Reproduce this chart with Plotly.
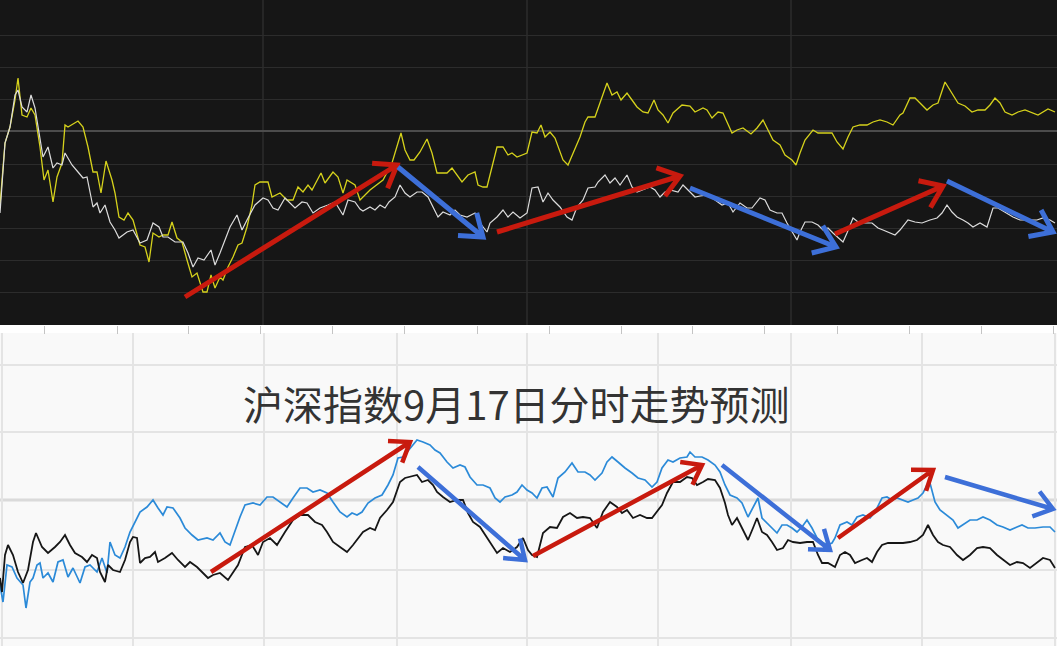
import math
import plotly.graph_objects as go

W, H = 1057, 646
TOP_H = 325   # height of dark (upper) panel in value units == px
BOT_H = 313   # height of light (lower) panel

# ---------------- data (time position, level) ----------------
yellow_top = [(0,120),(5,182),(10,198),(15,225),(18,247),(20,225),(22,210),(27,208),(31,217),(35,210),(40,178),(44,145),(48,155),(53,123),(57,148),(62,162),(65,200),(68,198),(78,204),(83,198),(88,178),(93,153),(97,153),(101,132),(106,164),(112,145),(115,132),(119,108),(124,105),(128,112),(133,105),(140,80),(145,78),(149,63),(153,92),(159,88),(163,90),(168,90),(172,103),(177,87),(182,83),(187,65),(192,48),(197,52),(203,33),(207,33),(211,50),(215,37),(220,48),(223,45),(228,58),(233,68),(238,80),(242,82),(247,98),(252,120),(255,140),(260,143),(268,143),(272,128),(280,132),(287,125),(293,125),(298,138),(303,133),(308,140),(312,135),(321,152),(325,142),(333,153),(338,148),(343,132),(347,145),(355,140),(360,125),(370,135),(383,145),(392,162),(401,192),(405,175),(410,165),(414,165),(420,173),(427,186),(432,172),(437,152),(442,152),(447,152),(452,157),(457,150),(462,143),(468,150),(475,153),(478,140),(483,138),(487,138),(492,158),(497,178),(503,178),(508,170),(512,172),(517,168),(527,172),(532,193),(537,192),(541,200),(545,188),(550,193),(555,187),(558,178),(563,165),(568,160),(573,172),(580,188),(585,203),(588,208),(595,208),(600,222),(607,242),(612,230),(617,233),(621,225),(627,232),(632,225),(637,218),(643,213),(648,212),(654,225),(658,215),(663,210),(668,202),(673,212),(682,220),(690,219),(695,213),(703,217),(707,215),(712,207),(718,213),(723,212),(732,192),(737,195),(743,197),(751,191),(757,197),(763,205),(768,195),(773,185),(780,180),(785,170),(792,165),(796,160),(800,172),(805,185),(813,195),(818,192),(825,192),(832,192),(837,183),(843,176),(848,188),(853,198),(860,200),(867,200),(873,203),(880,205),(887,203),(893,200),(900,210),(903,212),(910,227),(915,227),(920,222),(927,215),(933,220),(938,222),(945,243),(952,232),(958,222),(965,219),(972,213),(978,215),(985,215),(990,220),(995,227),(1000,222),(1005,213),(1012,210),(1018,213),(1025,215),(1033,212),(1038,210),(1048,216),(1055,213)]

white_top = [(0,112),(5,182),(10,198),(15,230),(18,235),(22,218),(27,213),(31,230),(35,217),(39,192),(43,168),(48,178),(53,157),(57,162),(62,160),(65,172),(72,160),(78,153),(83,147),(87,148),(93,118),(97,122),(100,112),(105,120),(110,103),(115,95),(119,87),(127,93),(133,95),(140,82),(147,85),(153,102),(159,98),(163,88),(168,88),(175,83),(183,83),(188,72),(193,58),(198,67),(204,65),(211,75),(215,60),(220,72),(225,85),(230,98),(237,110),(242,95),(247,105),(251,112),(255,120),(263,127),(268,125),(273,117),(278,115),(285,127),(290,122),(295,117),(302,123),(307,122),(313,112),(320,117),(328,120),(335,123),(343,110),(348,125),(355,123),(360,116),(363,114),(370,118),(375,115),(380,120),(385,117),(389,123),(395,128),(400,140),(405,132),(410,128),(417,133),(422,133),(428,128),(433,118),(438,108),(443,113),(450,110),(455,115),(460,110),(467,108),(475,112),(480,102),(487,93),(490,102),(497,108),(503,115),(508,108),(513,113),(520,107),(527,112),(532,137),(538,138),(543,123),(548,132),(553,125),(560,118),(567,108),(572,105),(577,118),(583,125),(588,137),(595,138),(598,143),(605,150),(610,142),(615,147),(620,140),(627,150),(632,138),(637,133),(643,135),(650,138),(655,135),(660,128),(665,133),(670,135),(678,133),(683,140),(690,133),(695,128),(700,129),(707,130),(715,125),(722,120),(728,122),(733,113),(740,122),(747,117),(752,117),(760,127),(765,125),(770,115),(777,112),(782,112),(787,102),(792,93),(797,85),(800,93),(805,103),(812,103),(818,100),(823,95),(828,97),(833,92),(838,87),(843,83),(847,92),(853,107),(858,103),(865,102),(872,102),(878,97),(883,95),(890,92),(895,90),(900,95),(908,105),(915,103),(922,102),(930,105),(937,107),(942,112),(947,120),(952,113),(957,108),(963,105),(968,102),(973,98),(980,102),(987,98),(993,117),(998,117),(1007,112),(1013,108),(1020,105),(1028,105),(1037,105),(1043,107),(1050,105),(1055,102)]

blue_bot = [(0,61),(3,44),(7,81),(12,79),(17,68),(20,64),(23,61),(26,38),(30,64),(33,68),(37,81),(40,83),(43,68),(48,73),(53,64),(58,84),(63,86),(68,69),(73,78),(80,63),(85,79),(90,81),(97,74),(102,88),(107,73),(110,104),(115,91),(120,88),(125,99),(130,114),(135,124),(140,134),(147,139),(153,146),(158,138),(163,131),(167,139),(173,138),(180,128),(185,118),(192,111),(198,106),(207,108),(213,106),(220,113),(225,104),(230,101),(235,116),(240,129),(245,141),(253,143),(260,141),(267,149),(273,149),(280,144),(287,139),(293,148),(300,158),(307,158),(313,154),(320,156),(327,153),(333,144),(340,134),(347,129),(352,133),(357,131),(362,134),(368,143),(375,148),(382,151),(388,161),(393,171),(398,188),(403,189),(410,198),(417,206),(423,204),(430,201),(435,196),(440,193),(447,184),(453,178),(460,181),(465,179),(470,169),(477,161),(483,161),(490,158),(495,148),(500,144),(505,149),(512,151),(517,154),(522,161),(527,156),(532,153),(537,148),(542,158),(547,159),(553,149),(558,168),(565,174),(572,183),(578,174),(585,174),(590,171),(595,166),(602,173),(607,184),(612,189),(618,184),(625,178),(632,173),(638,168),(645,166),(652,159),(657,164),(662,178),(668,186),(673,184),(680,188),(687,189),(690,194),(695,189),(702,189),(708,186),(715,181),(720,174),(725,161),(730,151),(737,148),(742,143),(748,129),(753,139),(758,148),(762,128),(767,123),(772,119),(777,113),(782,121),(787,121),(792,118),(797,114),(802,119),(807,126),(812,118),(817,108),(822,104),(827,101),(832,103),(835,108),(840,121),(847,124),(852,121),(857,129),(863,131),(870,128),(875,134),(882,148),(887,149),(892,146),(897,148),(903,146),(908,144),(913,146),(918,148),(923,153),(927,161),(930,163),(935,144),(940,136),(947,131),(953,126),(958,118),(963,121),(970,126),(977,126),(983,129),(990,126),(997,121),(1003,119),(1010,116),(1017,119),(1022,121),(1028,118),(1035,118),(1043,119),(1050,119),(1055,114)]

black_bot = [(0,68),(2,54),(5,91),(8,101),(13,91),(18,74),(23,63),(28,76),(33,104),(36,113),(42,99),(48,93),(55,99),(60,104),(65,111),(70,101),(75,93),(82,89),(87,84),(92,91),(97,88),(100,74),(105,64),(108,81),(113,76),(120,74),(125,86),(130,104),(133,109),(137,108),(140,83),(145,88),(150,89),(155,94),(158,84),(165,88),(172,93),(178,86),(185,79),(190,84),(197,79),(203,73),(208,68),(213,71),(220,73),(228,66),(233,73),(238,81),(245,99),(252,101),(258,91),(263,104),(270,108),(277,101),(285,114),(293,126),(300,131),(308,131),(315,124),(322,121),(327,114),(333,104),(340,99),(347,94),(353,101),(357,106),(363,114),(370,118),(375,116),(380,128),(387,136),(393,144),(400,164),(405,168),(410,169),(417,171),(422,164),(428,166),(433,161),(437,154),(443,149),(450,144),(457,146),(463,146),(468,133),(473,124),(480,119),(487,108),(492,101),(497,93),(503,98),(510,94),(517,99),(523,108),(528,96),(532,91),(537,89),(540,101),(543,113),(550,119),(557,118),(563,129),(570,133),(577,128),(583,129),(590,128),(597,118),(603,134),(610,144),(617,139),(622,133),(627,136),(633,128),(640,131),(647,128),(652,128),(657,134),(662,141),(667,153),(673,164),(680,164),(687,169),(692,168),(697,161),(703,164),(708,167),(715,166),(720,158),(725,143),(728,131),(732,121),(737,128),(742,118),(748,106),(753,118),(757,128),(762,114),(767,111),(772,104),(777,96),(783,98),(788,106),(793,104),(800,103),(807,104),(813,104),(818,91),(822,83),(828,83),(835,79),(840,91),(845,94),(850,91),(855,83),(862,86),(867,88),(872,84),(877,94),(882,101),(888,103),(895,103),(903,103),(910,104),(917,106),(923,111),(928,121),(933,111),(938,104),(943,101),(950,99),(957,91),(963,86),(970,91),(977,98),(983,99),(990,98),(997,91),(1003,86),(1010,81),(1017,84),(1023,83),(1030,78),(1037,83),(1043,88),(1050,86),(1055,78)]

# trend arrows (x0, y0, x1, y1) in panel value units
top_red_arrows = [(185, 28, 397, 160), (497, 93, 680, 149), (835, 91, 943, 139)]
top_blue_arrows = [(398, 158, 483, 88), (690, 137, 836, 78), (947, 144, 1053, 93)]
bot_red_arrows = [(211, 74, 410, 204), (533, 90, 702, 181), (838, 108, 933, 176)]
bot_blue_arrows = [(418, 179, 525, 86), (722, 181, 830, 96), (945, 169, 1053, 137)]

title_text = "沪深指数9月17日分时走势预测"

# grid positions
top_hgrid = [33, 65, 97, 129, 161, 226, 258, 290]
top_midline = 194
top_vgrid = [263, 527, 791]
strip_ticks = [44, 117, 188, 260, 332, 404, 477, 549, 621, 692, 764, 837, 909, 981, 1053]
bot_hgrid = [8, 76, 214, 281]
bot_midline = 146
bot_vgrid = [2, 133, 264, 397, 527, 658, 791, 922, 1055]

# ---------------- figure ----------------
fig = go.Figure()

def xy(pts):
    xs, ys = zip(*pts)
    return list(xs), list(ys)

x, y = xy(yellow_top)
fig.add_trace(go.Scatter(x=x, y=y, mode="lines", line=dict(color="#d6d21c", width=1.3),
                         xaxis="x", yaxis="y", showlegend=False, hoverinfo="skip"))
x, y = xy(white_top)
fig.add_trace(go.Scatter(x=x, y=y, mode="lines", line=dict(color="#dcdcdc", width=1.2),
                         xaxis="x", yaxis="y", showlegend=False, hoverinfo="skip"))
x, y = xy(blue_bot)
fig.add_trace(go.Scatter(x=x, y=y, mode="lines", line=dict(color="#2b8ad8", width=1.7),
                         xaxis="x2", yaxis="y2", showlegend=False, hoverinfo="skip"))
x, y = xy(black_bot)
fig.add_trace(go.Scatter(x=x, y=y, mode="lines", line=dict(color="#161616", width=1.8),
                         xaxis="x2", yaxis="y2", showlegend=False, hoverinfo="skip"))

shapes = []
# dark background of upper panel
shapes.append(dict(type="rect", xref="x domain", yref="y domain", x0=0, x1=1, y0=0, y1=1,
                   fillcolor="#161616", line=dict(width=0), layer="below"))
for v in top_vgrid:
    shapes.append(dict(type="line", xref="x", yref="y domain", x0=v, x1=v, y0=0, y1=1,
                       line=dict(color="#363636", width=1), layer="below"))
shapes.append(dict(type="line", xref="x domain", yref="y", x0=0, x1=1, y0=top_midline, y1=top_midline,
                   line=dict(color="#4c4c4c", width=2), layer="below"))
shapes.append(dict(type="line", xref="x2 domain", yref="y2", x0=0, x1=1, y0=bot_midline, y1=bot_midline,
                   line=dict(color="#dadada", width=3), layer="below"))


def arrow(a, color, xref, yref, width=5, head=24, ang=36):
    x0, y0, x1, y1 = a
    dx, dy = x0 - x1, y0 - y1
    L = math.hypot(dx, dy)
    ux, uy = dx / L, dy / L
    t = math.radians(ang)
    pts = []
    for s in (1, -1):
        rx = ux * math.cos(s * t) - uy * math.sin(s * t)
        ry = ux * math.sin(s * t) + uy * math.cos(s * t)
        pts.append((x1 + head * rx, y1 + head * ry))
    path = (f"M {x0},{y0} L {x1},{y1} "
            f"M {pts[0][0]:.1f},{pts[0][1]:.1f} L {x1},{y1} L {pts[1][0]:.1f},{pts[1][1]:.1f}")
    return dict(type="path", xref=xref, yref=yref, path=path,
                line=dict(color=color, width=width), layer="above")

RED, BLUE = "#c81a0e", "#3d6fd8"
for a in top_red_arrows:
    shapes.append(arrow(a, RED, "x", "y", width=5, head=25))
for a in top_blue_arrows:
    shapes.append(arrow(a, BLUE, "x", "y", width=5, head=25))
for a in bot_red_arrows:
    shapes.append(arrow(a, RED, "x2", "y2", width=4.5, head=22))
for a in bot_blue_arrows:
    shapes.append(arrow(a, BLUE, "x2", "y2", width=4.5, head=22))

top_dom = [1 - TOP_H / H, 1]
bot_dom = [0, BOT_H / H]

fig.update_layout(
    width=W, height=H,
    margin=dict(l=0, r=0, t=0, b=0),
    paper_bgcolor="#ffffff",
    plot_bgcolor="#f9f9f9",
    showlegend=False,
    xaxis=dict(domain=[0, 1], range=[0, W], anchor="y", showgrid=False, zeroline=False,
               showline=False, showticklabels=False, ticks="outside", tickvals=strip_ticks,
               ticklen=8, tickwidth=1, tickcolor="#c4c4c4", fixedrange=True),
    yaxis=dict(domain=top_dom, range=[0, TOP_H], anchor="x", tickvals=top_hgrid, showgrid=True,
               gridcolor="#2c2c2c", gridwidth=1, zeroline=False, showline=False,
               showticklabels=False, ticks="", fixedrange=True),
    xaxis2=dict(domain=[0, 1], range=[0, W], anchor="y2", tickvals=bot_vgrid, showgrid=True,
                gridcolor="#e4e4e4", gridwidth=2, zeroline=False, showline=False,
                showticklabels=False, ticks="", fixedrange=True),
    yaxis2=dict(domain=bot_dom, range=[0, BOT_H], anchor="x2", tickvals=bot_hgrid, showgrid=True,
                gridcolor="#e4e4e4", gridwidth=2, zeroline=False, showline=False,
                showticklabels=False, ticks="", fixedrange=True),
    shapes=shapes,
    annotations=[dict(text=title_text, xref="paper", yref="paper", x=516.5 / W, y=1 - 403 / H,
                      xanchor="center", yanchor="middle", showarrow=False,
                      font=dict(family="Noto Sans CJK SC", size=40, color="#333333"))],
)

fig.write_html("out.html", config={"displayModeBar": False},
               post_script="document.body.style.margin='0';document.body.style.padding='0';"
                           "document.body.style.overflow='hidden';")
